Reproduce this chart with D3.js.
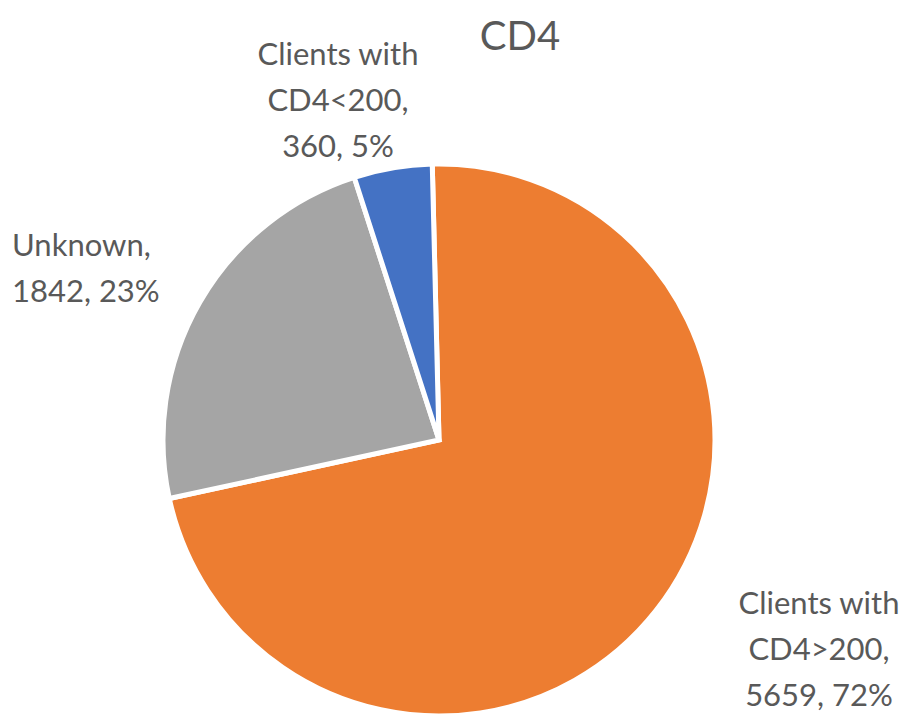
<!DOCTYPE html>
<html>
<head>
<meta charset="utf-8">
<script src="https://cdn.jsdelivr.net/npm/d3@7"></script>
<style>
  body { margin: 0; background: #fff; }
  text { font-family: Lato, "Open Sans", sans-serif; fill: #595959; }
</style>
</head>
<body>
<script>
// pie data, in Excel order (first slice starts at 12 o'clock, clockwise)
var categories = ['Clients with CD4>200', 'Unknown', 'Clients with CD4<200'];
var values = [5659, 1842, 360];
var percents = ['72%', '23%', '5%'];
var colors = ['#ED7D31', '#A5A5A5', '#4472C4'];

// label lines as Excel wrapped them
var labelLines = [
  ['Clients with', 'CD4>200,', '5659, 72%'],
  ['Unknown,', '1842, 23%'],
  ['Clients with', 'CD4<200,', '360, 5%']
];

var width = 912, height = 719;
var cx = 439, cy = 440, r = 276;
var start = -1.4 * Math.PI / 180; // first slice is turned a touch left of 12 o'clock

var svg = d3.select('body').append('svg')
  .attr('width', width)
  .attr('height', height);

svg.append('text')
  .attr('x', 520)
  .attr('y', 50)
  .attr('text-anchor', 'middle')
  .style('font-size', '40px')
  .text('CD4');

var pie = d3.pie().sort(null)
  .startAngle(start).endAngle(start + 2 * Math.PI)
  .value(function(d) { return d; });
var arc = d3.arc().innerRadius(0).outerRadius(r);

var g = svg.append('g').attr('transform', 'translate(' + cx + ',' + cy + ')');

g.selectAll('path')
  .data(pie(values))
  .enter().append('path')
  .attr('d', arc)
  .attr('fill', function(d, i) { return colors[i]; })
  .attr('stroke', '#fff')
  .attr('stroke-width', 5)
  .attr('stroke-linejoin', 'miter');

// label anchor points (x, first baseline y)
var labelPos = [
  { x: 819, y: 614, anchor: 'middle' },
  { x: 12, y: 256, anchor: 'start' },
  { x: 338, y: 65, anchor: 'middle' }
];

var labels = svg.selectAll('.label')
  .data(labelLines)
  .enter().append('text')
  .attr('class', 'label')
  .attr('text-anchor', function(d, i) { return labelPos[i].anchor; })
  .style('font-size', '31px');

labels.selectAll('tspan')
  .data(function(d, i) { return d.map(function(t) { return { t: t, i: i }; }); })
  .enter().append('tspan')
  .attr('x', function(d) { return labelPos[d.i].x; })
  .attr('y', function(d, j) { return labelPos[d.i].y + j * 46; })
  .text(function(d) { return d.t; });
</script>
</body>
</html>
